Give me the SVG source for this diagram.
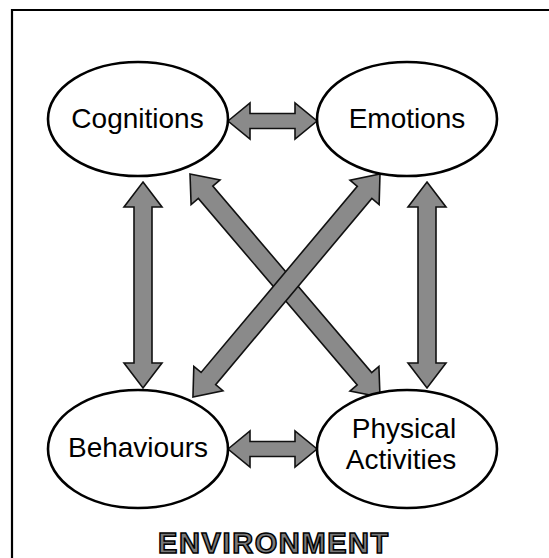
<svg xmlns="http://www.w3.org/2000/svg" width="549" height="558" viewBox="0 0 549 558">
<style>
.node{fill:#fff;stroke:#000;stroke-width:2.6}
.lbl{font-family:"Liberation Sans",Arial,sans-serif;font-size:28px;fill:#000;text-anchor:middle}
.arr{fill:#8a8a8a;stroke:#111;stroke-width:1.6;stroke-linejoin:miter}
.env{font-family:"Liberation Sans",Arial,sans-serif;font-weight:bold;font-size:29px;letter-spacing:1.6px;fill:#7a7a7a;stroke:#000;stroke-width:1.5;text-anchor:middle}
</style>
<rect width="549" height="558" fill="#fff"/>
<path d="M12,570 V10 H560" fill="none" stroke="#000" stroke-width="2.2"/>
<g id="connectors">
<polygon class="arr" transform="translate(228,121)" points="0,0 22,-18 22,-7.5 67,-7.5 67,-18 89,0 67,18 67,7.5 22,7.5 22,18"/>
<polygon class="arr" transform="translate(228,449)" points="0,0 22,-18 22,-7.5 67,-7.5 67,-18 89,0 67,18 67,7.5 22,7.5 22,18"/>
<polygon class="arr" transform="translate(143,182) rotate(90)" points="0,0 25,-19 25,-9 181,-9 181,-19 206,0 181,19 181,9 25,9 25,19"/>
<polygon class="arr" transform="translate(427,182) rotate(90)" points="0,0 25,-19 25,-9 181,-9 181,-19 206,0 181,19 181,9 25,9 25,19"/>
<polygon class="arr" transform="translate(190,174) rotate(49.57)" points="0,0 24,-19 24,-9.5 269,-9.5 269,-19 293,0 269,19 269,9.5 24,9.5 24,19"/>
<polygon class="arr" transform="translate(380,174) rotate(130)" points="0,0 24,-19 24,-9.5 267,-9.5 267,-19 291,0 267,19 267,9.5 24,9.5 24,19"/>
</g>
<g id="cognitions">
<ellipse class="node" cx="138" cy="119" rx="90" ry="57"/>
<text class="lbl" x="137.5" y="128">Cognitions</text>
</g>
<g id="emotions">
<ellipse class="node" cx="407" cy="119" rx="90" ry="57"/>
<text class="lbl" x="407" y="128">Emotions</text>
</g>
<g id="behaviours">
<ellipse class="node" cx="138" cy="449" rx="90" ry="59"/>
<text class="lbl" x="138" y="457">Behaviours</text>
</g>
<g id="physical-activities">
<ellipse class="node" cx="407" cy="449" rx="90" ry="59"/>
<text class="lbl" x="404" y="438">Physical</text>
<text class="lbl" x="401" y="469">Activities</text>
</g>
<g id="environment">
<text class="env" x="274" y="553">ENVIRONMENT</text>
</g>
</svg>
